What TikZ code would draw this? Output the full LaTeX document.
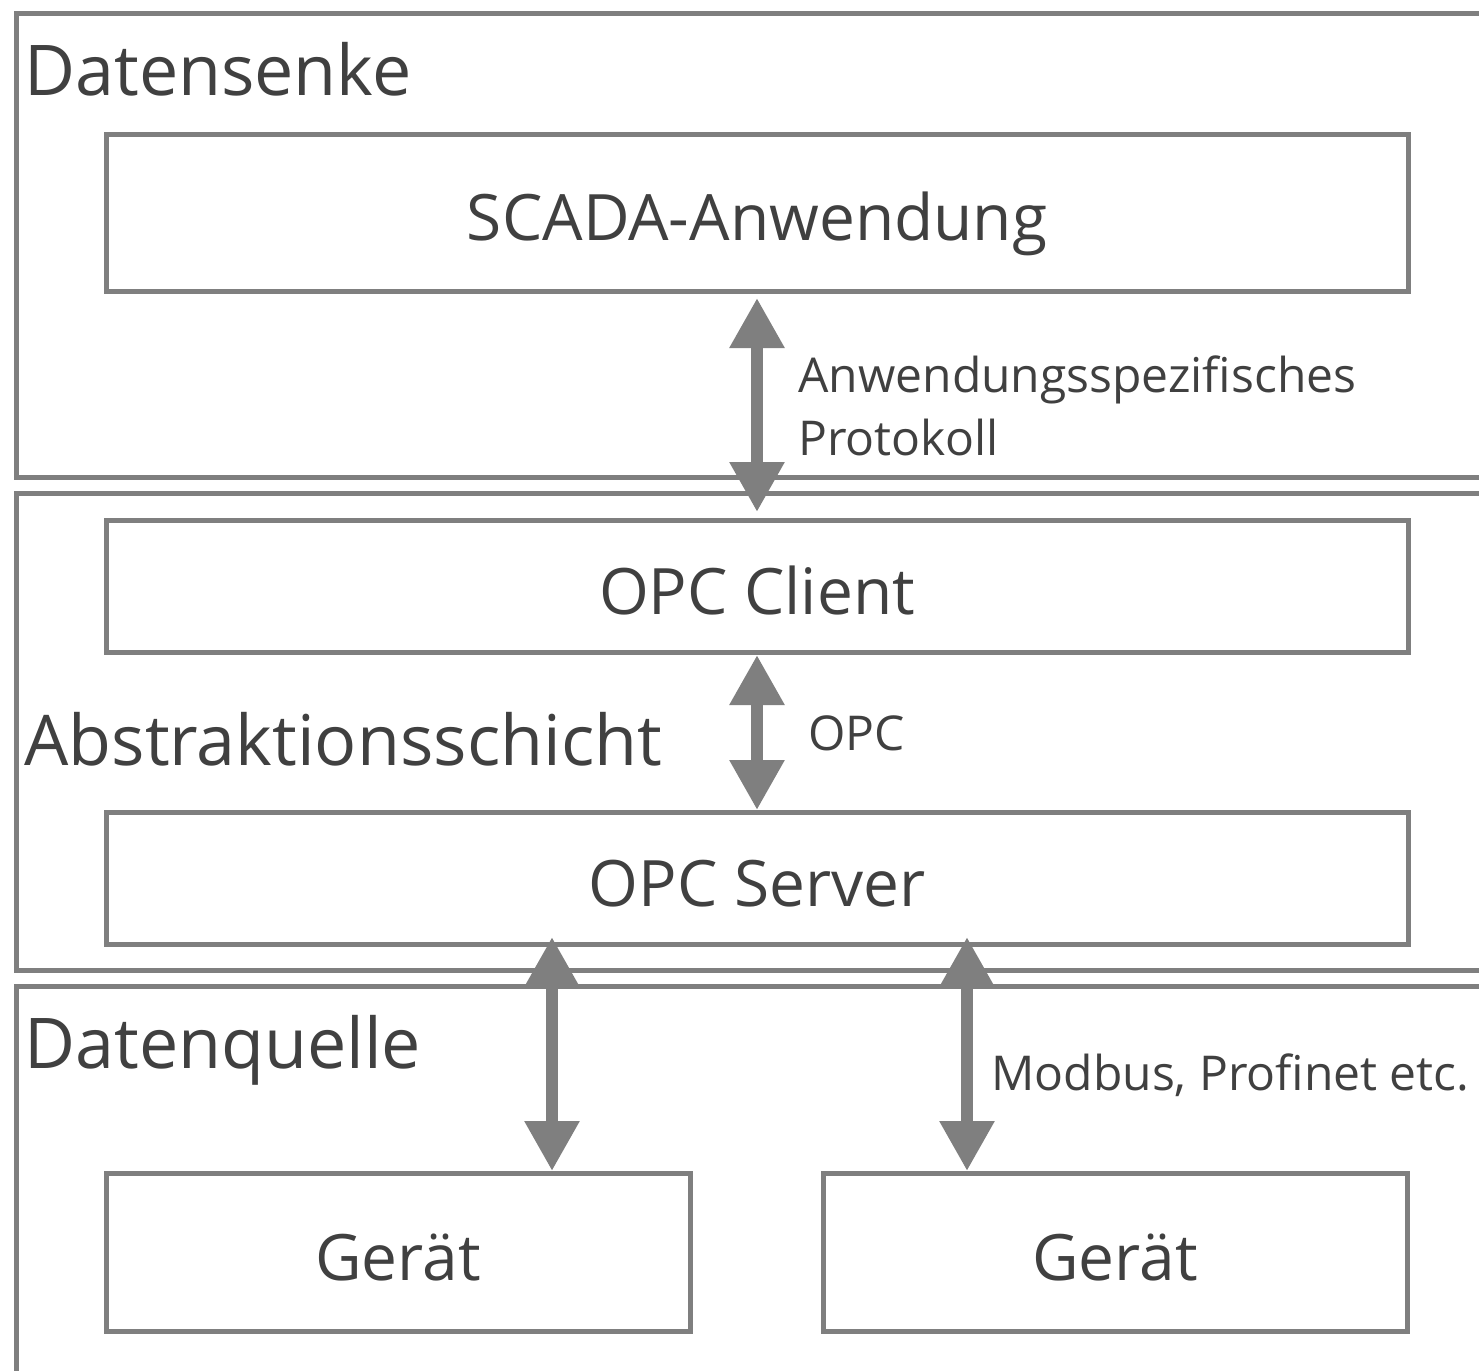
\documentclass[tikz,border=0pt]{standalone}
\usepackage{fontspec}
\setmainfont{Open Sans}
\usepackage{xcolor}
\usetikzlibrary{arrows.meta}

\definecolor{rahmen}{HTML}{7F7F7F}
\definecolor{schrift}{HTML}{404040}

\tikzset{
  schicht/.style={draw=rahmen, line width=2.5pt},
  schichttext/.style={anchor=base west, inner sep=0pt, text=schrift,
    font=\fontsize{35}{42}\selectfont},
  kasten/.style={draw=rahmen, line width=2.5pt, outer sep=0pt, inner sep=0pt,
    text=schrift, font=\fontsize{32}{38}\selectfont,
    text height=28pt, text depth=0pt},
  proto/.style={anchor=base west, inner sep=0pt, text=schrift, align=left,
    font=\fontsize{24}{31.5}\selectfont},
  biarrow/.style={draw=rahmen, line width=6pt,
    {Triangle[width=26pt,length=25pt]}-{Triangle[width=26pt,length=25pt]}}
}

\begin{document}
\begin{tikzpicture}[x=0.5pt,y=-0.5pt]
\useasboundingbox (0,0) rectangle (1479,1371);
\clip (0,0) rectangle (1479,1371);

% Schichten
\draw[schicht] (16,13) rectangle (1500,477);
\draw[schicht] (16,493) rectangle (1500,970);
\draw[schicht] (16,986) rectangle (1500,1400);
\node[schichttext] (senke)  at (24,95)   {Datensenke};
\node[schichttext] (abstr)  at (24,765)  {Abstraktionsschicht};
\node[schichttext] (quelle) at (24,1068) {Datenquelle};

% Komponenten
\node[kasten, minimum width=651pt, minimum height=78.5pt] (scada)  at (757,212.5) {SCADA-Anwendung};
\node[kasten, minimum width=651pt, minimum height=66pt]   (client) at (757,586)   {OPC Client};
\node[kasten, minimum width=651pt, minimum height=66pt]   (server) at (757,878)   {OPC Server};
\node[kasten, minimum width=292pt, minimum height=79pt]   (geraetA) at (398,1252) {Gerät};
\node[kasten, minimum width=292pt, minimum height=79pt]   (geraetB) at (1115,1252) {Gerät};

\coordinate (busA) at (552,944);
\coordinate (busB) at (967,944);

% Verbindungen
\draw[biarrow, shorten <=3.5pt, shorten >=4pt] (scada.south) -- (client.north);
\draw[biarrow, shorten <=1.5pt, shorten >=1pt] (client.south) -- (server.north);
\draw[biarrow, shorten <=-3.5pt, shorten >=1pt] (busA) -- (busA |- geraetA.north);
\draw[biarrow, shorten <=-3.5pt, shorten >=1pt] (busB) -- (busB |- geraetB.north);

\node[proto] (anw)  at (798,455)  {Anwendungsspezifisches\\Protokoll};
\node[proto] (opc)  at (808,750)  {OPC};
\node[proto] (feld) at (991,1090) {Modbus, Profinet etc.};
\end{tikzpicture}
\end{document}
